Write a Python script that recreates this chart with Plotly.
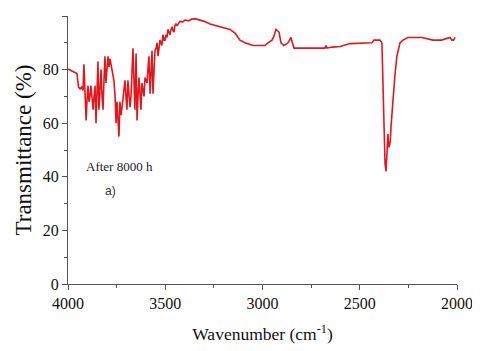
import plotly.graph_objects as go

# espectro IR (número de onda en cm-1, transmitancia en %)
numero_onda = [
    4000, 3985, 3970, 3954, 3946, 3938, 3930, 3923, 3918, 3912, 3907, 3902, 3897,
    3892, 3887, 3882, 3876, 3871, 3866, 3861, 3856, 3851, 3846, 3841, 3835, 3830,
    3825, 3820, 3815, 3810, 3805, 3800, 3794, 3789, 3784, 3779, 3774, 3769, 3764,
    3758, 3753, 3748, 3743, 3738, 3733, 3727, 3722, 3717, 3712, 3707, 3702, 3697,
    3692, 3686, 3681, 3676, 3671, 3666, 3661, 3656, 3650, 3645, 3640, 3635, 3630,
    3625, 3620, 3614, 3609, 3604, 3599, 3594, 3589, 3584, 3578, 3573, 3568, 3563,
    3558, 3553, 3547, 3542, 3537, 3532, 3527, 3522, 3517, 3512, 3506, 3501, 3496,
    3491, 3486, 3481, 3476, 3470, 3465, 3460, 3455, 3450, 3445, 3439, 3434, 3424,
    3410, 3398, 3380, 3363, 3347, 3330, 3321, 3300, 3270, 3240, 3219, 3190, 3167,
    3140, 3116, 3090, 3070, 3049, 3020, 2987, 2972, 2951, 2941, 2931, 2923, 2915,
    2905, 2890, 2878, 2869, 2861, 2854, 2846, 2838, 2760, 2679, 2674, 2668, 2643,
    2600, 2550, 2500, 2437, 2427, 2410, 2396, 2386, 2380, 2375, 2370, 2365, 2360,
    2355, 2350, 2347, 2343, 2339, 2329, 2319, 2309, 2300, 2293, 2278, 2252, 2231,
    2180, 2124, 2113, 2080, 2036, 2026, 2018, 2010, 2005,
]
transmitancia = [
    80.2, 79.6, 79.1, 78.5, 73.5, 72.8, 73.5, 72.2, 82.0, 72.0, 61.0, 69.0, 74.0,
    68.0, 70.0, 74.0, 69.0, 65.0, 70.0, 74.0, 60.0, 72.0, 83.0, 65.0, 73.0, 80.0,
    70.0, 65.0, 76.0, 85.0, 75.0, 80.0, 85.0, 81.0, 84.0, 82.0, 80.0, 79.0, 76.0,
    70.0, 60.0, 68.0, 62.0, 55.0, 68.0, 63.0, 66.0, 70.0, 73.0, 76.0, 70.0, 65.0,
    76.0, 71.0, 66.0, 70.0, 77.0, 88.0, 76.0, 65.0, 86.0, 61.0, 70.0, 77.0, 71.0,
    65.0, 75.0, 72.0, 70.0, 77.0, 76.0, 75.0, 80.0, 85.0, 71.0, 79.0, 87.0, 71.0,
    80.0, 87.0, 88.0, 90.0, 85.0, 88.0, 91.0, 90.0, 89.0, 93.0, 91.0, 91.0, 93.0,
    92.0, 95.0, 94.0, 93.0, 95.0, 96.0, 94.5, 94.0, 96.5, 97.0, 96.5, 97.0, 98.0,
    97.8, 98.5, 98.2, 98.9, 99.0, 98.6, 98.5, 98.0, 97.0, 96.5, 96.0, 95.5, 95.0,
    93.5, 91.0, 90.0, 89.5, 89.0, 89.0, 89.0, 90.0, 91.0, 92.5, 95.0, 94.5, 94.0,
    90.0, 89.0, 89.5, 90.0, 91.0, 92.0, 90.0, 88.0, 88.0, 88.0, 89.0, 88.0, 88.4,
    88.6, 89.7, 89.8, 90.0, 91.0, 91.0, 91.0, 90.0, 71.0, 52.0, 45.0, 42.0,
    50.0, 56.0, 51.0, 52.0, 53.0, 59.0, 69.0, 78.0, 85.0, 88.0, 90.0, 91.0, 92.0,
    92.0, 92.0, 91.0, 91.0, 91.0, 92.0, 91.0, 91.0, 92.0,
]

fuente = "Times New Roman, Liberation Serif, DejaVu Serif, serif"

fig = go.Figure()
fig.add_trace(go.Scatter(
    x=numero_onda, y=transmitancia, mode="lines",
    line=dict(color="#e3161c", width=1.6),
    showlegend=False,
))

fig.add_annotation(x=3733, y=44, text="After 8000 h", showarrow=False,
                   font=dict(family=fuente, size=13, color="#222"))
fig.add_annotation(x=3779, y=34.7, text="a)", showarrow=False,
                   font=dict(family="Arial, Liberation Sans, sans-serif", size=12, color="#333"))

eje = dict(
    showgrid=False, zeroline=False, showline=True, linecolor="#555", linewidth=1,
    ticks="outside", ticklen=5, tickcolor="#555", mirror=False, automargin=False,
    tickfont=dict(family=fuente, size=16, color="#111"),
)

# la página tiene 8 px de margen en el body, así que la figura se achica
fig.update_layout(
    width=472, height=343,
    font=dict(family=fuente),
    plot_bgcolor="white", paper_bgcolor="white",
    margin=dict(l=60, r=23, t=8, b=67),
    xaxis=dict(
        eje, range=[4000, 2000], tickvals=[4000, 3500, 3000, 2500, 2000],
        minor=dict(ticks="outside", ticklen=3, tickcolor="#555", dtick=250, tick0=2000),
        title=dict(text="Wavenumber (cm<sup>-1</sup>)", standoff=16,
                   font=dict(family=fuente, size=17.5, color="#111")),
    ),
    yaxis=dict(
        eje, range=[0, 100], tickvals=[0, 20, 40, 60, 80, 100],
        minor=dict(ticks="outside", ticklen=3, tickcolor="#555", dtick=10, tick0=0),
        title=dict(text="Transmittance (%)", standoff=4,
                   font=dict(family=fuente, size=23, color="#111")),
    ),
)

fig.write_html("out.html")
